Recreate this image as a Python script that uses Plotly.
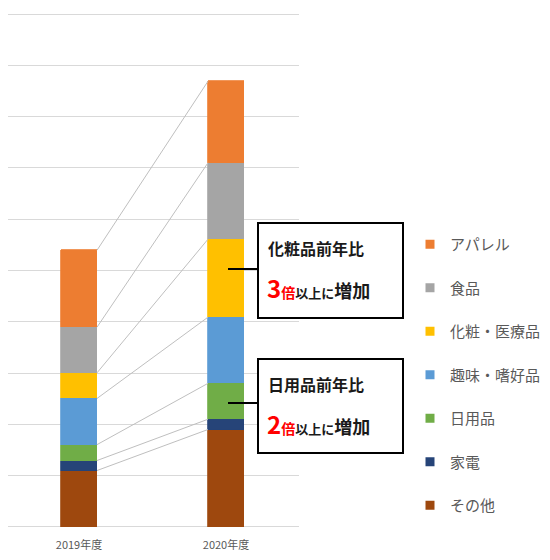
import plotly.graph_objects as go
import numpy as np

categories = ["2019年度", "2020年度"]
series_names = ["その他", "家電", "日用品", "趣味・嗜好品", "化粧・医療品", "食品", "アパレル"]
other = [1.10, 1.90]
appliances = [0.195, 0.20]
daily = [0.31, 0.70]
hobby = [0.90, 1.29]
cosmetics = [0.50, 1.52]
food = [0.89, 1.49]
apparel = [1.50, 1.59]
colors = ["#9E480E", "#264478", "#70AD47", "#5B9BD5", "#FFC000", "#A5A5A5", "#ED7D31"]

values = [other, appliances, daily, hobby, cosmetics, food, apparel]
xpos = [0, 1]
bar_w = 0.245
FONT = "Noto Sans CJK JP"

# page has an 8px body margin; figure is sized to fit inside the window
W, H = 542, 552
OFF = 8
PL, PR = 0, 291          # plot area x (figure px)
PT, PB = 4, 521          # plot area y (figure px); y range padded slightly
YR = [-0.04, 10.04]

fig = go.Figure()
for name, vals, col in zip(series_names, values, colors):
    fig.add_trace(go.Bar(x=xpos, y=vals, name=name, width=bar_w,
                         marker=dict(color=col, line=dict(color=col, width=0.8)),
                         showlegend=False))

# series lines connecting segment tops
cum = np.cumsum(np.array(values), axis=0)
for row in cum:
    fig.add_trace(go.Scatter(x=[xpos[0] + bar_w / 2, xpos[1] - bar_w / 2], y=list(row),
                             mode="lines", line=dict(color="#BFBFBF", width=1),
                             showlegend=False, hoverinfo="skip"))

# legend entries (top to bottom)
for name, col in reversed(list(zip(series_names, colors))):
    fig.add_trace(go.Scatter(x=[None], y=[None], mode="markers", name=name,
                             legendgroup=name,
                             marker=dict(symbol="square", size=9, color=col,
                                         line=dict(color=col, width=0))))

def px_x(p):
    return (p - OFF - PL) / (PR - PL)

def px_y(p):
    return (PB - (p - OFF)) / (PB - PT)

shapes = []
# callout boxes
for (y0, y1, cy) in [(223, 318, 269), (359, 453, 403)]:
    shapes.append(dict(type="rect", xref="paper", yref="paper",
                       x0=px_x(258), x1=px_x(403), y0=px_y(y1), y1=px_y(y0),
                       line=dict(color="black", width=2), fillcolor="white"))
    shapes.append(dict(type="line", xref="paper", yref="paper",
                       x0=px_x(228), x1=px_x(258), y0=px_y(cy), y1=px_y(cy),
                       line=dict(color="black", width=2)))

annotations = []
box_texts = [
    (248, "化粧品前年比", 287, "3"),
    (384, "日用品前年比", 423, "2"),
]
for y_a, title, y_b, num in box_texts:
    annotations.append(dict(xref="paper", yref="paper", x=px_x(266), y=px_y(y_a),
                            xanchor="left", yanchor="middle", showarrow=False,
                            text="<b>" + title + "</b>",
                            font=dict(family=FONT, size=16, color="#1a1a1a")))
    annotations.append(dict(xref="paper", yref="paper", x=px_x(265), y=px_y(y_b),
                            xanchor="left", yanchor="middle", showarrow=False,
                            text=("<b><span style='color:#FF0000;font-size:24px'>" + num + "</span>"
                                  "<span style='color:#FF0000;font-size:14px'>倍</span>"
                                  "<span style='font-size:13px'>以上に</span>"
                                  "<span style='font-size:18px'>増加</span></b>"),
                            font=dict(family=FONT, size=16, color="#1a1a1a")))

# x range so that category centres fall at screen x 79 and 226
c0 = 79 - OFF - PL
unit = 147
xr = [-c0 / unit, (PR - PL - c0) / unit]

fig.update_layout(
    width=W, height=H,
    margin=dict(l=PL, r=W - PR, t=PT, b=H - PB),
    paper_bgcolor="white", plot_bgcolor="white",
    barmode="stack", bargap=0,
    font=dict(family=FONT, color="#595959"),
    xaxis=dict(range=xr, tickvals=xpos, ticktext=categories,
               showgrid=False, zeroline=False, showline=False,
               tickfont=dict(size=11, color="#595959", family=FONT), ticks="",
               ticklabelstandoff=8),
    yaxis=dict(range=YR, dtick=1, tick0=0, showticklabels=False,
               gridcolor="#D9D9D9", gridwidth=1.3, zeroline=False, showline=False),
    legend=dict(xref="container", yref="container", x=(410 - OFF) / W, y=1 - (228 - OFF) / H,
                xanchor="left", yanchor="top", traceorder="grouped",
                tracegroupgap=21, font=dict(size=15, color="#595959", family=FONT),
                bgcolor="rgba(0,0,0,0)", maxheight=400),
    shapes=shapes, annotations=annotations,
)

fig.write_html("out.html")
